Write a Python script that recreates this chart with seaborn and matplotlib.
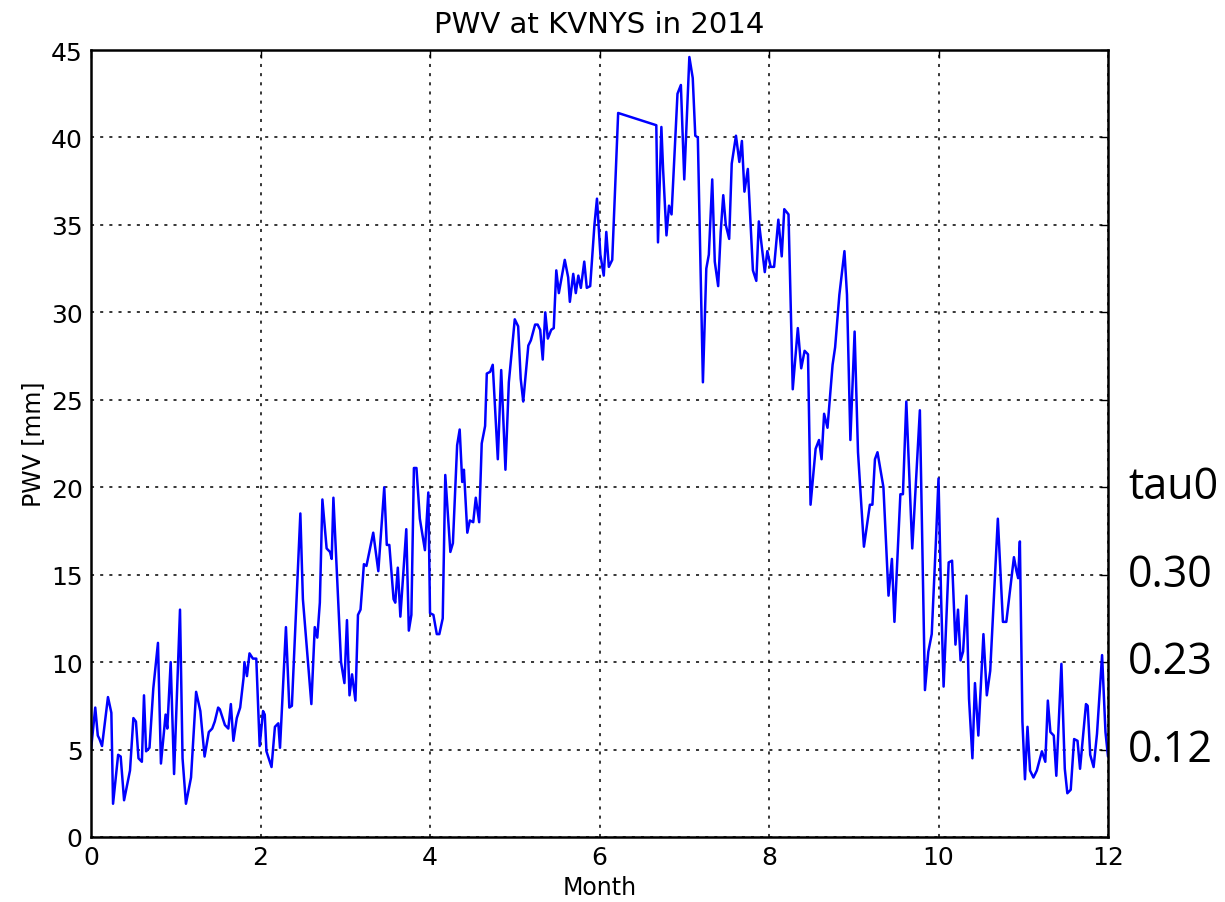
import pandas as pd
import matplotlib
matplotlib.use("Agg")
import matplotlib.pyplot as plt
import matplotlib.transforms as mtransforms
import seaborn as sns

# PWV (x in months)
month = [
    0.00, 0.05, 0.08, 0.10, 0.13, 0.20, 0.24, 0.26, 0.32, 0.35, 0.39, 0.46, 0.50, 0.53, 0.56, 0.60,
    0.625, 0.65, 0.69, 0.735, 0.79, 0.825, 0.88, 0.90, 0.94, 0.98, 1.05, 1.08, 1.12, 1.18, 1.24, 1.29,
    1.34, 1.39, 1.43, 1.46, 1.50, 1.52, 1.58, 1.62, 1.65, 1.68, 1.72, 1.76, 1.80, 1.81, 1.84, 1.87,
    1.91, 1.95, 1.99, 2.03, 2.05, 2.07, 2.13, 2.17, 2.21, 2.23, 2.30, 2.34, 2.37, 2.47, 2.50, 2.60,
    2.64, 2.67, 2.70, 2.73, 2.78, 2.82, 2.84, 2.86, 2.90, 2.95, 2.99, 3.02, 3.05, 3.08, 3.12, 3.15,
    3.18, 3.22, 3.25, 3.33, 3.39, 3.46, 3.49, 3.52, 3.57, 3.59, 3.62, 3.65, 3.72, 3.75, 3.78, 3.81,
    3.84, 3.88, 3.94, 3.98, 4.00, 4.04, 4.08, 4.11, 4.15, 4.18, 4.24, 4.27, 4.32, 4.35, 4.38, 4.40,
    4.44, 4.47, 4.51, 4.54, 4.58, 4.61, 4.65, 4.67, 4.71, 4.74, 4.80, 4.84, 4.89, 4.93, 5.00, 5.04,
    5.07, 5.10, 5.16, 5.19, 5.24, 5.27, 5.30, 5.33, 5.36, 5.39, 5.43, 5.46, 5.49, 5.52, 5.59, 5.63,
    5.65, 5.69, 5.72, 5.75, 5.78, 5.82, 5.85, 5.89, 5.94, 5.97, 6.01, 6.05, 6.08, 6.11, 6.15, 6.22,
    6.67, 6.69, 6.73, 6.75, 6.79, 6.82, 6.85, 6.92, 6.96, 7.00, 7.06, 7.10, 7.13, 7.16, 7.22, 7.26,
    7.29, 7.33, 7.36, 7.40, 7.43, 7.46, 7.49, 7.53, 7.56, 7.61, 7.65, 7.68, 7.71, 7.75, 7.81, 7.85,
    7.88, 7.95, 7.98, 8.02, 8.06, 8.11, 8.15, 8.18, 8.23, 8.28, 8.34, 8.38, 8.42, 8.46, 8.49, 8.55,
    8.59, 8.62, 8.65, 8.69, 8.75, 8.78, 8.83, 8.89, 8.92, 8.96, 9.01, 9.05, 9.12, 9.19, 9.22, 9.25,
    9.28, 9.35, 9.41, 9.45, 9.48, 9.55, 9.58, 9.62, 9.69, 9.71, 9.78, 9.84, 9.88, 9.92, 9.97, 10.00,
    10.03, 10.06, 10.12, 10.16, 10.20, 10.23, 10.26, 10.29, 10.33, 10.36, 10.40, 10.43, 10.47, 10.53,
    10.57, 10.61, 10.70, 10.76, 10.80, 10.89, 10.92, 10.94, 10.96, 10.99, 11.02, 11.05, 11.08, 11.12,
    11.16, 11.22, 11.26, 11.29, 11.32, 11.36, 11.39, 11.45, 11.49, 11.52, 11.56, 11.60, 11.64, 11.67,
    11.74, 11.76, 11.79, 11.83, 11.87, 11.93, 11.97, 12.00,
]
pwv = [
    5.0, 7.4, 5.8, 5.6, 5.2, 8.0, 7.1, 1.9, 4.7, 4.6, 2.1, 3.8, 6.8, 6.6, 4.5, 4.3,
    8.1, 4.9, 5.1, 8.5, 11.1, 4.2, 7.0, 6.2, 10.0, 3.6, 13.0, 4.5, 1.9, 3.4, 8.3, 7.2,
    4.6, 6.0, 6.2, 6.6, 7.4, 7.3, 6.4, 6.2, 7.6, 5.5, 6.8, 7.4, 9.1, 10.0, 9.2, 10.5,
    10.2, 10.2, 5.2, 7.2, 7.0, 4.9, 4.0, 6.3, 6.5, 5.1, 12.0, 7.4, 7.5, 18.5, 13.6, 7.6,
    12.0, 11.4, 13.4, 19.3, 16.5, 16.3, 15.9, 19.4, 15.2, 10.0, 8.8, 12.4, 8.1, 9.3, 7.8, 12.7,
    13.0, 15.6, 15.5, 17.4, 15.2, 20.0, 16.7, 16.7, 13.6, 13.4, 15.4, 12.6, 17.6, 11.8, 12.7, 21.1,
    21.1, 18.2, 16.4, 19.7, 12.8, 12.7, 11.6, 11.6, 12.5, 20.7, 16.3, 16.8, 22.4, 23.3, 20.3, 21.0,
    17.4, 18.1, 18.0, 19.4, 18.0, 22.5, 23.5, 26.5, 26.6, 27.0, 21.6, 26.7, 21.0, 26.0, 29.6, 29.2,
    26.2, 24.9, 28.1, 28.4, 29.3, 29.3, 29.0, 27.3, 30.0, 28.5, 29.0, 29.1, 32.4, 31.1, 33.0, 32.0,
    30.6, 32.2, 31.1, 32.1, 31.4, 32.9, 31.4, 31.5, 35.0, 36.5, 33.3, 32.1, 34.6, 32.6, 33.0, 41.4,
    40.7, 34.0, 40.6, 38.2, 34.4, 36.1, 35.6, 42.5, 43.0, 37.6, 44.6, 43.4, 40.1, 40.0, 26.0, 32.5,
    33.3, 37.6, 32.9, 31.5, 34.6, 36.7, 35.0, 34.2, 38.5, 40.1, 38.6, 39.8, 36.9, 38.2, 32.4, 31.8,
    35.2, 32.3, 33.5, 32.6, 32.6, 35.3, 33.2, 35.9, 35.6, 25.6, 29.1, 26.8, 27.8, 27.6, 19.0, 22.2,
    22.7, 21.6, 24.2, 23.4, 27.0, 28.0, 31.0, 33.5, 31.0, 22.7, 28.9, 22.0, 16.6, 19.0, 19.0, 21.6,
    22.0, 20.0, 13.8, 15.9, 12.3, 19.6, 19.6, 24.9, 16.5, 18.2, 24.4, 8.4, 10.6, 11.6, 17.0, 20.5,
    13.8, 8.6, 15.7, 15.8, 11.0, 13.0, 10.1, 10.6, 13.8, 7.9, 4.5, 8.8, 5.8, 11.6,
    8.1, 9.5, 18.2, 12.3, 12.3, 16.0, 15.2, 14.8, 16.9, 6.6, 3.3, 6.3, 3.8, 3.4,
    3.8, 4.9, 4.3, 7.8, 6.0, 5.8, 3.5, 9.9, 3.9, 2.5, 2.7, 5.6, 5.5, 3.9,
    7.6, 7.5, 4.7, 4.0, 5.9, 10.4, 6.0, 4.6,
]

tau_labels = ["tau0", "0.30", "0.23", "0.12"]
tau_levels = [20, 15, 10, 5]

x_ticks = list(range(0, 13, 2))
y_ticks = list(range(0, 46, 5))

df = pd.DataFrame({"Month": month, "PWV": pwv})

sns.set_style("white")
plt.rcParams["font.family"] = ["DejaVu Sans"]
plt.rcParams["text.color"] = "black"
plt.rcParams["axes.labelcolor"] = "black"
plt.rcParams["xtick.color"] = "black"
plt.rcParams["ytick.color"] = "black"

fig = plt.figure(figsize=(12.25, 9.03), dpi=100)
ax = fig.add_axes([0.0743, 0.072, 0.8302, 0.8715])

sns.lineplot(data=df, x="Month", y="PWV", ax=ax, sort=False, estimator=None,
             color="#0000ff", linewidth=1.8)

ax.set_xlim(0, 12)
ax.set_ylim(0, 45)
ax.set_xticks(x_ticks)
ax.set_yticks(y_ticks)
ax.grid(True, color="black", linestyle=(0, (2, 4)), linewidth=1.1)
ax.tick_params(direction="in", top=True, right=True, length=6, width=1,
               labelsize=18, pad=6)
for s in ax.spines.values():
    s.set_linewidth(1.8)
    s.set_color("black")

ax.set_title("PWV at KVNYS in 2014", fontsize=21, pad=13)
ax.set_xlabel("Month", fontsize=17, labelpad=4)
ax.set_ylabel("PWV [mm]", fontsize=17, labelpad=4)

trans = mtransforms.blended_transform_factory(ax.transAxes, ax.transData)
for lab, lev in zip(tau_labels, tau_levels):
    ax.text(1.02, lev, lab, transform=trans, ha="left", va="center",
            fontsize=31, family=["Open Sans", "DejaVu Sans"])

fig.savefig("out.png", dpi=100)
